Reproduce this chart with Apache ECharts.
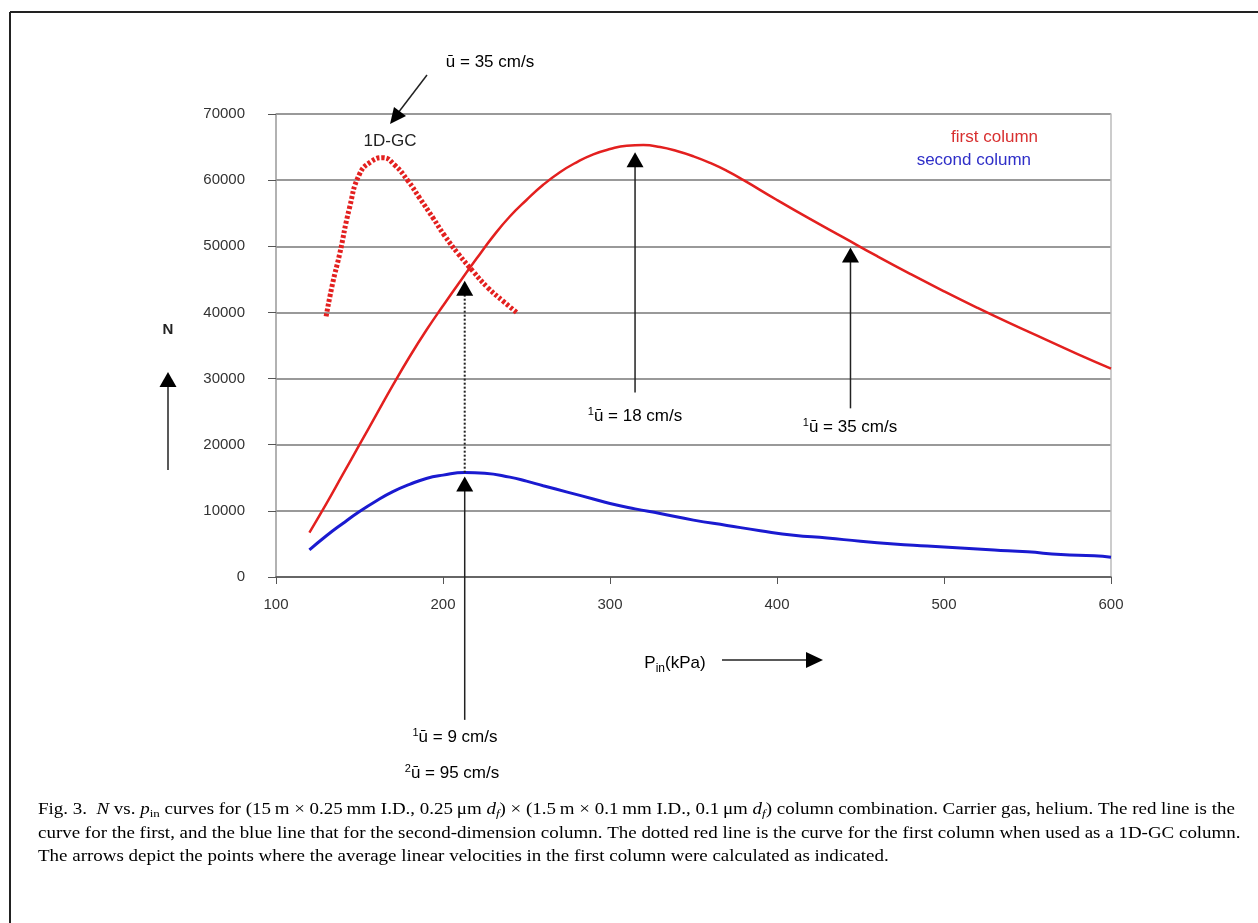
<!DOCTYPE html>
<html>
<head>
<meta charset="utf-8">
<script src="https://cdn.jsdelivr.net/npm/echarts@6/dist/echarts.min.js"></script>
<style>
html, body { margin: 0; padding: 0; background: #fff; }
#main { width: 1258px; height: 923px; }
</style>
</head>
<body>
<div id="main"></div>
<script>
// first column
var firstP = [120, 130, 140, 150, 160, 170, 180, 190, 200, 210, 220, 230, 240, 250, 260, 270, 280, 290, 300, 310, 320, 330, 340, 350, 360, 370, 380, 400, 420, 440, 460, 480, 500, 520, 540, 560, 580, 600];
var firstN = [6700, 11000, 15500, 20000, 24500, 29000, 33300, 37300, 41000, 44600, 48100, 51500, 54500, 57000, 59300, 61200, 62700, 63900, 64700, 65200, 65300, 65000, 64400, 63600, 62600, 61400, 60000, 57000, 54100, 51300, 48500, 45800, 43200, 40700, 38300, 36000, 33700, 31500];

// second column
var secondP = [120, 130, 140, 150, 160, 170, 180, 190, 200, 213, 225, 240, 250, 260, 275, 290, 300, 315, 330, 350, 370, 390, 410, 430, 450, 470, 490, 510, 530, 550, 570, 590, 600];
var secondN = [4100, 6200, 8100, 9900, 11500, 12900, 14000, 14900, 15400, 15800, 15700, 15100, 14500, 13800, 12800, 11800, 11100, 10300, 9600, 8600, 7800, 7000, 6300, 5900, 5400, 5000, 4700, 4400, 4100, 3800, 3400, 3200, 3000];

// 1D-GC (dotted)
var gcP = [130, 134, 138, 144, 150, 157, 164, 171, 179, 186, 194, 201, 209, 218, 227, 236, 245];
var gcN = [39400, 44500, 48700, 55800, 60900, 62800, 63400, 62300, 59900, 57300, 54300, 51600, 48900, 46200, 43700, 41700, 39800];

// arrows: [P, tip N, bottom N]
var arrowUp = [[213, 15200, -21600], [315, 64200, 27900], [444, 49800, 25500]];
var dottedArrow = [213, 44800, 15800];

var xTicks = [100, 600, 100];
var yTicks = [0, 70000, 10000];

function zip(a, b) {
	var out = [];
	for (var i = 0; i < a.length; i++) {
		out.push([a[i], b[i]]);
	}
	return out;
}

var myChart = echarts.init(document.getElementById('main'));
var axisFont = 'Liberation Sans, Arial, sans-serif';

var option = {
	animation: false,
	backgroundColor: '#fff',
	grid: { left: 276, right: 147, top: 114, bottom: 346 },
	xAxis: {
		type: 'value',
		min: xTicks[0], max: xTicks[1], interval: xTicks[2],
		axisLine: { show: true, lineStyle: { color: '#555', width: 1.5 } },
		axisTick: { show: true, length: 7, lineStyle: { color: '#555' } },
		axisLabel: { margin: 20, color: '#333', fontSize: 15, fontFamily: axisFont },
		splitLine: { show: false }
	},
	yAxis: [{
		type: 'value',
		min: yTicks[0], max: yTicks[1], interval: yTicks[2],
		axisLine: { show: true, lineStyle: { color: '#999', width: 1.5 } },
		axisTick: { show: true, length: 8, lineStyle: { color: '#555' } },
		axisLabel: { margin: 31, color: '#333', fontSize: 15, fontFamily: axisFont, formatter: function (v) { return String(v); } },
		splitLine: { show: true, lineStyle: { color: '#777', width: 1.5 } }
	}, {
		type: 'value',
		position: 'right',
		min: yTicks[0], max: yTicks[1], interval: yTicks[2],
		axisLine: { show: true, lineStyle: { color: '#bbb', width: 1.5 } },
		axisTick: { show: false },
		axisLabel: { show: false },
		splitLine: { show: false }
	}],
	series: [{
		name: 'first column',
		type: 'line',
		smooth: 0.5,
		showSymbol: false,
		lineStyle: { color: '#e3201f', width: 2.5 },
		data: zip(firstP, firstN),
		z: 3
	}, {
		name: 'second column',
		type: 'line',
		smooth: 0.5,
		showSymbol: false,
		lineStyle: { color: '#1a1ad0', width: 3 },
		data: zip(secondP, secondN),
		z: 3
	}, {
		name: '1D-GC',
		type: 'line',
		smooth: 0.5,
		showSymbol: false,
		lineStyle: { color: '#e3201f', width: 5, type: [3, 2], cap: 'butt' },
		data: zip(gcP, gcN),
		z: 3
	}]
};
myChart.setOption(option);

function px(p, n) {
	return myChart.convertToPixel({ gridIndex: 0 }, [p, n]);
}

function arrowHead(tip, up) {
	var d = up ? 1 : -1;
	return {
		type: 'polygon',
		shape: { points: [[tip[0], tip[1]], [tip[0] - 8.5, tip[1] + 15 * d], [tip[0] + 8.5, tip[1] + 15 * d]] },
		style: { fill: '#000' },
		z: 10
	};
}

var g = [];
// frame
g.push({ type: 'line', shape: { x1: 10, y1: 12, x2: 1258, y2: 12 }, style: { stroke: '#222', lineWidth: 2 } });
g.push({ type: 'line', shape: { x1: 10, y1: 12, x2: 10, y2: 923 }, style: { stroke: '#222', lineWidth: 2 } });

for (var i = 0; i < arrowUp.length; i++) {
	var tip = px(arrowUp[i][0], arrowUp[i][1]);
	var bot = px(arrowUp[i][0], arrowUp[i][2]);
	g.push({ type: 'line', shape: { x1: tip[0], y1: tip[1] + 14, x2: bot[0], y2: bot[1] }, style: { stroke: '#222', lineWidth: 1.5 }, z: 10 });
	g.push(arrowHead(tip, true));
}
var dt = px(dottedArrow[0], dottedArrow[1]);
var db = px(dottedArrow[0], dottedArrow[2]);
g.push({ type: 'line', shape: { x1: dt[0], y1: dt[1] + 14, x2: db[0], y2: db[1] }, style: { stroke: '#222', lineWidth: 2, lineDash: [2, 2] }, z: 10 });
g.push(arrowHead(dt, true));

// diagonal arrow towards 1D-GC
g.push({ type: 'line', shape: { x1: 427, y1: 75, x2: 398, y2: 113 }, style: { stroke: '#222', lineWidth: 1.5 }, z: 10 });
g.push({ type: 'polygon', shape: { points: [[390, 124], [394, 107], [406, 116]] }, style: { fill: '#000' }, z: 10 });

// N axis arrow
g.push({ type: 'line', shape: { x1: 168, y1: 470, x2: 168, y2: 385 }, style: { stroke: '#222', lineWidth: 1.5 } });
g.push(arrowHead([168, 372], true));
// Pin arrow
g.push({ type: 'line', shape: { x1: 722, y1: 660, x2: 808, y2: 660 }, style: { stroke: '#222', lineWidth: 1.5 } });
g.push({ type: 'polygon', shape: { points: [[823, 660], [806, 652], [806, 668]] }, style: { fill: '#000' } });

var txtFont = 'Liberation Sans, Arial, sans-serif';
var richU = {
	sup: { fontSize: 11, fontFamily: txtFont, color: '#222', verticalAlign: 'top', lineHeight: 20 },
	t: { fontSize: 17, fontFamily: txtFont, color: '#222', lineHeight: 20 }
};
function uLabel(x, y, sup, rest) {
	return {
		type: 'text', x: x, y: y,
		style: { text: (sup ? '{sup|' + sup + '}' : '') + '{t|ū = ' + rest + '}', rich: richU, align: 'center', verticalAlign: 'middle' },
		z: 20
	};
}
g.push(uLabel(490, 62, '', '35 cm/s'));
g.push(uLabel(635, 416, '1', '18 cm/s'));
g.push(uLabel(850, 427, '1', '35 cm/s'));
g.push(uLabel(455, 737, '1', '9 cm/s'));
g.push(uLabel(452, 773, '2', '95 cm/s'));

g.push({ type: 'text', x: 390, y: 141, style: { text: '1D-GC', font: '17px ' + txtFont, fill: '#222', align: 'center', verticalAlign: 'middle' }, z: 20 });
g.push({ type: 'text', x: 168, y: 330, style: { text: 'N', font: 'bold 15px ' + txtFont, fill: '#222', align: 'center', verticalAlign: 'middle' } });
g.push({
	type: 'text', x: 675, y: 663,
	style: {
		text: '{t|P}{s|in}{t|(kPa)}', align: 'center', verticalAlign: 'middle',
		rich: {
			t: { fontSize: 17, fontFamily: txtFont, color: '#222', lineHeight: 24 },
			s: { fontSize: 12, fontFamily: txtFont, color: '#222', verticalAlign: 'bottom', lineHeight: 24 }
		}
	}
});

g.push({ type: 'text', x: 1038, y: 137, style: { text: 'first column', font: '17px ' + txtFont, fill: '#d83030', align: 'right', verticalAlign: 'middle' } });
g.push({ type: 'text', x: 1031, y: 160, style: { text: 'second column', font: '17px ' + txtFont, fill: '#2f2fc8', align: 'right', verticalAlign: 'middle' } });

// caption
var serif = 'Liberation Serif, Times New Roman, serif';
var capRich = {
	r: { fontSize: 16, fontFamily: serif, color: '#111', lineHeight: 20 },
	i: { fontSize: 16, fontFamily: serif, fontStyle: 'italic', color: '#111', lineHeight: 20 },
	s: { fontSize: 11, fontFamily: serif, color: '#111', verticalAlign: 'bottom', lineHeight: 20 },
	si: { fontSize: 11, fontFamily: serif, fontStyle: 'italic', color: '#111', verticalAlign: 'bottom', lineHeight: 20 }
};
var cap1 = '{r|Fig. 3.  }{i|N}{r| vs. }{i|p}{s|in}{r| curves for (15\u2009m \u00d7 0.25\u2009mm I.D., 0.25\u2009\u03bcm }{i|d}{si|f}{r|) \u00d7 (1.5\u2009m \u00d7 0.1\u2009mm I.D., 0.1\u2009\u03bcm }{i|d}{si|f}{r|) column combination. Carrier gas, helium. The red line is the}';
var cap2 = '{r|curve for the first, and the blue line that for the second-dimension column. The dotted red line is the curve for the first column when used as a 1D-GC column.}';
var cap3 = '{r|The arrows depict the points where the average linear velocities in the first column were calculated as indicated.}';
var capScale = 1.185;
g.push({ type: 'text', x: 38, y: 810, scaleX: capScale, style: { text: cap1, rich: capRich, verticalAlign: 'middle' } });
g.push({ type: 'text', x: 38, y: 834, scaleX: capScale, style: { text: cap2, rich: capRich, verticalAlign: 'middle' } });
g.push({ type: 'text', x: 38, y: 857, scaleX: capScale, style: { text: cap3, rich: capRich, verticalAlign: 'middle' } });

myChart.setOption({ graphic: g });
</script>
</body>
</html>
